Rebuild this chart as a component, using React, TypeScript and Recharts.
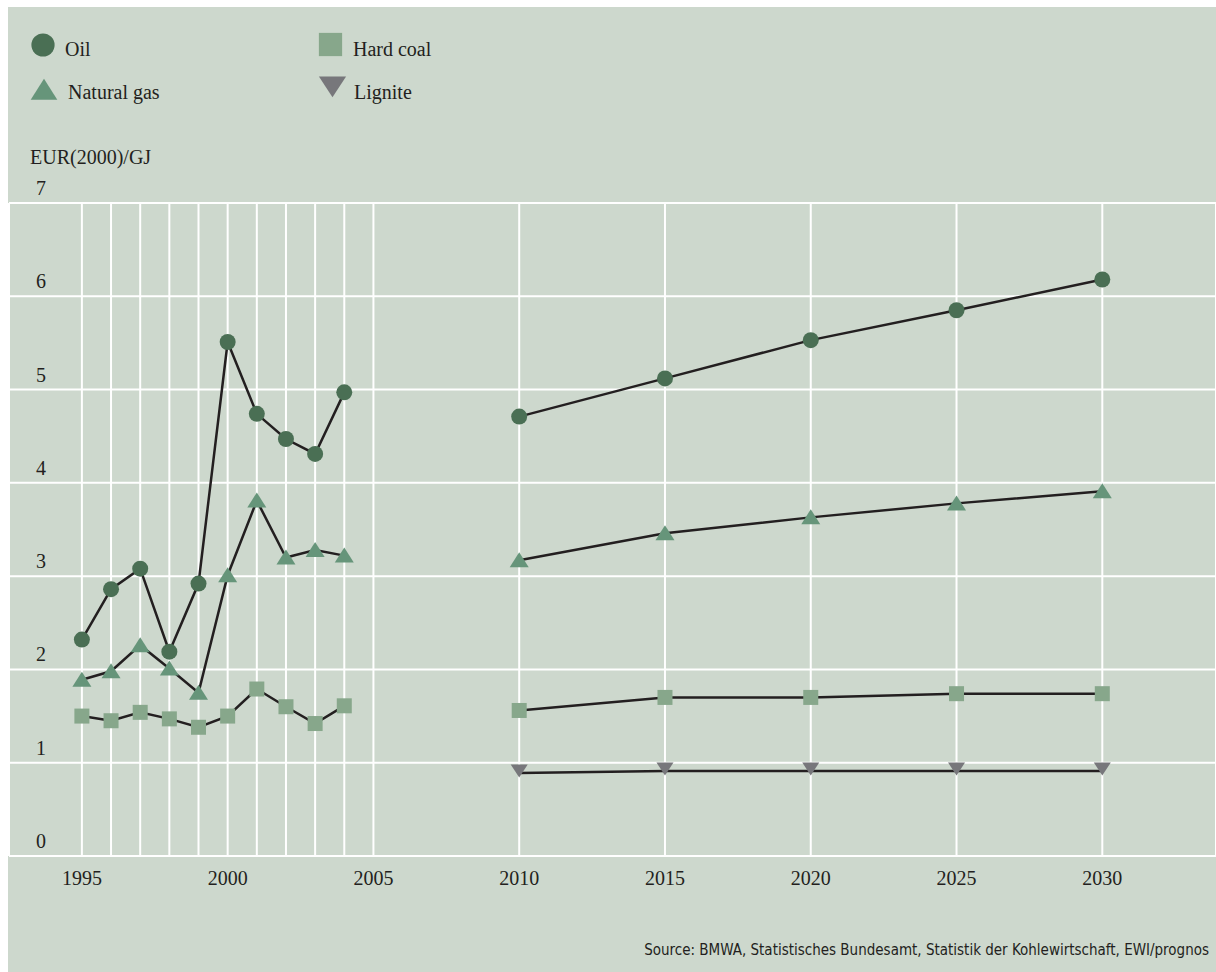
import React from 'react'
import { LineChart, Line, XAxis, YAxis, CartesianGrid } from 'recharts'

const YEARS = [1995, 1996, 1997, 1998, 1999, 2000, 2001, 2002, 2003, 2004, 2005, 2010, 2015, 2020, 2025, 2030]
const OIL = [2.32, 2.86, 3.08, 2.19, 2.92, 5.51, 4.74, 4.47, 4.31, 4.97, null, 4.71, 5.12, 5.53, 5.85, 6.18]
const GAS = [1.89, 1.98, 2.26, 2.01, 1.75, 3.01, 3.81, 3.2, 3.28, 3.22, null, 3.17, 3.46, 3.63, 3.78, 3.91]
const COAL = [1.5, 1.45, 1.54, 1.47, 1.38, 1.5, 1.79, 1.6, 1.42, 1.61, null, 1.56, 1.7, 1.7, 1.74, 1.74]
const LIGNITE = [null, null, null, null, null, null, null, null, null, null, null, 0.89, 0.91, 0.91, 0.91, 0.91]

const X_TICKS = [1995, 1996, 1997, 1998, 1999, 2000, 2001, 2002, 2003, 2004, 2005, 2010, 2015, 2020, 2025, 2030]
const Y_TICKS = [0, 1, 2, 3, 4, 5, 6, 7]

const UNIT = 'EUR(2000)/GJ'
const SOURCE = 'Source: BMWA, Statistisches Bundesamt, Statistik der Kohlewirtschaft, EWI/prognos'

const BG = '#cdd8cd'
const INK = '#231f20'
const SERIF = '"Liberation Serif", "DejaVu Serif", serif'

const SERIES = [
  { key: 'lignite', name: 'Lignite', shape: 'down', color: '#77777b' },
  { key: 'coal', name: 'Hard coal', shape: 'square', color: '#87a78b' },
  { key: 'gas', name: 'Natural gas', shape: 'up', color: '#66957a' },
  { key: 'oil', name: 'Oil', shape: 'circle', color: '#4a6f54' },
]

const rows = YEARS.map((year, i) => ({
  year,
  oil: OIL[i],
  gas: GAS[i],
  coal: COAL[i],
  lignite: LIGNITE[i],
}))

function marker(shape: string, color: string, cx: number, cy: number, s: number, key?: string) {
  if (shape === 'circle') return <circle key={key} cx={cx} cy={cy} r={8 * s} fill={color} />
  if (shape === 'square') return <rect key={key} x={cx - 7.5 * s} y={cy - 7.5 * s} width={15 * s} height={15 * s} fill={color} />
  if (shape === 'up')
    return <polygon key={key} fill={color} points={`${cx},${cy - 8 * s} ${cx - 9.5 * s},${cy + 7 * s} ${cx + 9.5 * s},${cy + 7 * s}`} />
  return <polygon key={key} fill={color} points={`${cx - 8.5 * s},${cy - 8.5 * s} ${cx + 8.5 * s},${cy - 8.5 * s} ${cx},${cy + 4.5 * s}`} />
}

const makeDot = (shape: string, color: string) => (props: any) => {
  const { cx, cy, value, index, dataKey } = props
  if (cx == null || cy == null || value == null) return <g key={`${dataKey}-${index}`} />
  return marker(shape, color, cx, cy, 1, `${dataKey}-${index}`)
}

const XTick = (props: any) => {
  const { x, payload } = props
  if (payload.value % 5 !== 0) return <g />
  return (
    <text x={x} y={878} textAnchor="middle" fill={INK} fontFamily={SERIF} fontSize={20}>
      {payload.value}
    </text>
  )
}

const YTick = (props: any) => {
  const { y, payload } = props
  return (
    <text x={28} y={y - 8} textAnchor="start" fill={INK} fontFamily={SERIF} fontSize={20}>
      {payload.value}
    </text>
  )
}

function Legend() {
  const items = [
    { s: SERIES[3], mx: 35, my: 38, tx: 57, ty: 49, scale: 1.45 },
    { s: SERIES[2], mx: 36, my: 83, tx: 60, ty: 92, scale: 1.4 },
    { s: SERIES[1], mx: 322.5, my: 37.5, tx: 345, ty: 49, scale: 1.55 },
    { s: SERIES[0], mx: 324.5, my: 83, tx: 346, ty: 92, scale: 1.6 },
  ]
  return (
    <svg width={1208} height={965} style={{ position: 'absolute', left: 0, top: 0, pointerEvents: 'none' }}>
      {items.map(it => (
        <g key={it.s.key}>
          {marker(it.s.shape, it.s.color, it.mx, it.my, it.scale)}
          <text x={it.tx} y={it.ty} fill={INK} fontFamily={SERIF} fontSize={20}>
            {it.s.name}
          </text>
        </g>
      ))}
      <text x={22} y={157} fill={INK} fontFamily={SERIF} fontSize={20}>
        {UNIT}
      </text>
      <text x={1201} y={948} textAnchor="end" fill={INK} fontFamily='"DejaVu Sans Condensed", "Open Sans", sans-serif' fontSize={15}>
        {SOURCE}
      </text>
    </svg>
  )
}

export default function App() {
  return (
    <div style={{ position: 'absolute', left: 8, top: 7, width: 1208, height: 965, background: BG }}>
      <LineChart width={1208} height={965} data={rows} margin={{ top: 196, right: 0, bottom: 76, left: 0 }}>
        <CartesianGrid stroke="#ffffff" strokeWidth={2} />
        <XAxis
          dataKey="year"
          type="number"
          domain={[1992.5, 2033.9]}
          ticks={X_TICKS}
          interval={0}
          allowDataOverflow
          axisLine={false}
          tickLine={false}
          height={40}
          tick={XTick}
        />
        <YAxis type="number" domain={[0, 7]} ticks={Y_TICKS} interval={0} width={1} axisLine={false} tickLine={false} tick={YTick} />
        {SERIES.map(s => (
          <Line
            key={s.key}
            dataKey={s.key}
            name={s.name}
            stroke={INK}
            strokeWidth={2.5}
            dot={makeDot(s.shape, s.color)}
            activeDot={false}
            isAnimationActive={false}
          />
        ))}
      </LineChart>
      <Legend />
    </div>
  )
}
